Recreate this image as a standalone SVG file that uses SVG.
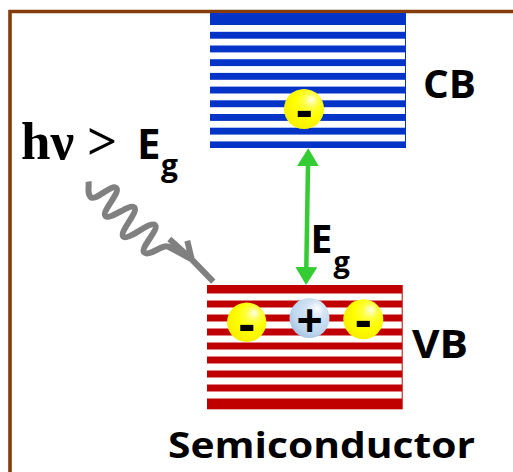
<svg xmlns="http://www.w3.org/2000/svg" width="513" height="472" viewBox="0 0 513 472">
<style>
.sans{font-family:"Open Sans",Lato,"Liberation Sans",sans-serif;font-weight:700;fill:#000}
.serif{font-family:"Liberation Serif","DejaVu Serif",serif;font-weight:700;fill:#000}
.wstripe{fill:#fff}
.sign{font-family:"Open Sans",Lato,"Liberation Sans",sans-serif;font-weight:700;fill:#000;text-anchor:middle}
</style>
<defs>
<radialGradient id="gy" cx="0.6" cy="0.38" r="0.62" fx="0.7" fy="0.25">
<stop offset="0" stop-color="#ffffe8"/>
<stop offset="0.3" stop-color="#ffff40"/>
<stop offset="0.6" stop-color="#ffff00"/>
<stop offset="1" stop-color="#f8f000"/>
</radialGradient>
<radialGradient id="gb" cx="0.58" cy="0.4" r="0.62" fx="0.7" fy="0.25">
<stop offset="0" stop-color="#ffffff"/>
<stop offset="0.35" stop-color="#d4e4f4"/>
<stop offset="0.8" stop-color="#bdd7ee"/>
<stop offset="1" stop-color="#a9c4e2"/>
</radialGradient>
<marker id="ah" markerUnits="userSpaceOnUse" markerWidth="18" markerHeight="22" viewBox="0 0 18 22" refX="14" refY="11" orient="auto-start-reverse">
<path d="M0,0 L18,11 L0,22 Z" fill="#33cc33"/>
</marker>
</defs>

<g id="frame">
<path d="M10,472 V11.5 H513" fill="none" stroke="#843c0c" stroke-width="3.6"/>
</g>

<g id="cb">
<rect x="210" y="13" width="196" height="135" fill="#0433c8"/>
<rect class="wstripe" x="210" y="25" width="195" height="6.8"/>
<rect class="wstripe" x="210" y="38.7" width="195" height="6.8"/>
<rect class="wstripe" x="210" y="52.4" width="195" height="6.8"/>
<rect class="wstripe" x="210" y="66.1" width="195" height="6.8"/>
<rect class="wstripe" x="210" y="79.8" width="195" height="6.8"/>
<rect class="wstripe" x="210" y="93.5" width="195" height="6.8"/>
<rect class="wstripe" x="210" y="107.2" width="195" height="6.8"/>
<rect class="wstripe" x="210" y="120.9" width="195" height="6.8"/>
<rect class="wstripe" x="210" y="134.6" width="195" height="6.8"/>
<text class="sans" x="423" y="98.3" font-size="40" textLength="53" lengthAdjust="spacingAndGlyphs">CB</text>
</g>

<g id="cb-electron">
<circle cx="304" cy="109" r="20" fill="url(#gy)"/>
<text class="sign" x="304.3" y="127" font-size="50">-</text>
</g>

<g id="vb">
<rect x="207" y="285" width="195.7" height="124.3" fill="#c00000"/>
<rect class="wstripe" x="207" y="293.5" width="194.7" height="7"/>
<rect class="wstripe" x="207" y="307.5" width="194.7" height="7"/>
<rect class="wstripe" x="207" y="321.5" width="194.7" height="7"/>
<rect class="wstripe" x="207" y="335.5" width="194.7" height="7"/>
<rect class="wstripe" x="207" y="349.5" width="194.7" height="7"/>
<rect class="wstripe" x="207" y="363.5" width="194.7" height="7"/>
<rect class="wstripe" x="207" y="377.5" width="194.7" height="7"/>
<rect class="wstripe" x="207" y="391.5" width="194.7" height="7"/>
<text class="sans" x="412" y="358.3" font-size="40" textLength="56" lengthAdjust="spacingAndGlyphs">VB</text>
</g>

<g id="vb-electron-left">
<circle cx="246.7" cy="322.3" r="19.7" fill="url(#gy)"/>
<text class="sign" x="246.7" y="340.7" font-size="50">-</text>
</g>
<g id="vb-hole">
<circle cx="309.5" cy="318" r="20" fill="url(#gb)"/>
<text class="sign" x="309.7" y="336.5" font-size="46">+</text>
</g>
<g id="vb-electron-right">
<circle cx="363.3" cy="319.3" r="20" fill="url(#gy)"/>
<text class="sign" x="363.3" y="336.7" font-size="50">-</text>
</g>

<g id="photon-label">
<text class="serif" x="21" y="159" font-size="53">hν<tspan x="87">&gt;</tspan></text>
<text class="sans" x="137" y="159" font-size="42">E</text>
<text class="sans" x="161" y="176" font-size="30">g</text>
</g>

<g id="gap-label">
<text class="sans" x="310.5" y="253.3" font-size="39">E</text>
<text class="sans" x="333.5" y="271.5" font-size="29">g</text>
</g>

<g id="semiconductor-label">
<text class="sans" x="168" y="458.3" font-size="35" textLength="307" lengthAdjust="spacingAndGlyphs">Semiconductor</text>
</g>

<g id="connectors">
<path id="photon" d="M88.5,181.5 C89.5,187 86.5,193 90.6,197.1 C95.1,201.6 111.8,183.6 116.3,188.1 C120.8,192.6 101,211.6 105.5,216.1 C110,220.6 129.8,202.9 134.3,207.4 C138.8,211.9 118.8,232.1 123.3,236.6 C127.8,241.1 150.5,220.5 155,225 C159.5,229.5 139.7,248 144.2,252.5 C148.7,257 163,244 168,246.5 L191.7,259.3 M169.3,239 L191.7,259.3 L187.3,240.7 M191.7,259.3 L213.3,281.7" fill="none" stroke="#808080" stroke-width="6" stroke-linejoin="round" stroke-linecap="butt"/>
<line id="gap-arrow" x1="308.2" y1="152.3" x2="306.1" y2="281" stroke="#33cc33" stroke-width="4.5" marker-start="url(#ah)" marker-end="url(#ah)"/>
</g>
</svg>
